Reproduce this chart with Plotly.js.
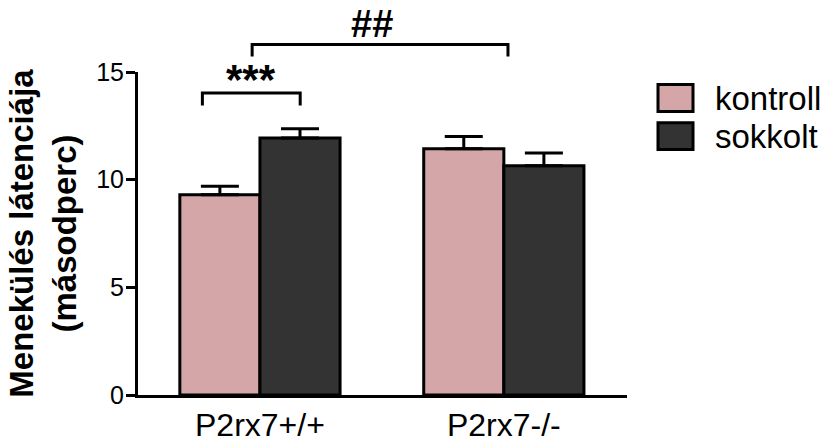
<!DOCTYPE html>
<html>
<head>
<meta charset="utf-8">
<script src="https://cdn.plot.ly/plotly-3.0.1.min.js"></script>
<style>html,body{margin:0;padding:0;background:#fff;}#chart{width:825px;height:443px;}</style>
</head>
<body>
<div id="chart"></div>
<script>
const categories = ['P2rx7+/+', 'P2rx7-/-'];
const seriesNames = ['kontroll', 'sokkolt'];
const kontrollMean = [9.3, 11.43];
const kontrollSem = [0.39, 0.58];
const sokkoltMean = [11.94, 10.65];
const sokkoltSem = [0.43, 0.59];
const yTicks = [0, 5, 10, 15];
const yTitle = 'Menekülés látenciája<br>(másodperc)';
const sigLabels = ['***', '##'];

const FONT = 'Liberation Sans, Arial, sans-serif';
const PINK = '#d5a6a8';
const DARK = '#333333';
const Y_MAX = yTicks[yTicks.length - 1];
const py = v => v / Y_MAX; // data value -> paper fraction (axis spans 0..Y_MAX)

function barTrace(name, y, err, color) {
  return {
    type: 'bar', name: name, x: categories, y: y,
    marker: {color: color, line: {color: '#000', width: 3}},
    error_y: {type: 'data', symmetric: false, array: err, arrayminus: err.map(() => 0),
              color: '#000', thickness: 3, width: 19},
    showlegend: false
  };
}

const data = [
  barTrace(seriesNames[0], kontrollMean, kontrollSem, PINK),
  barTrace(seriesNames[1], sokkoltMean, sokkoltSem, DARK)
];

const lineStyle = {color: '#000', width: 3};
function bracket(xa, xb, yLow, yHigh) {
  return {type: 'path', xref: 'x', yref: 'paper', line: lineStyle,
          path: `M ${xa},${py(yLow)} L ${xa},${py(yHigh)} L ${xb},${py(yHigh)} L ${xb},${py(yLow)}`};
}
const shapes = [
  bracket(-0.236, 0.165, 13.44, 14.03),
  bracket(-0.032, 1.017, 15.72, 16.28),
  // legend swatches
  {type: 'rect', xref: 'paper', yref: 'paper', x0: 1.0634, x1: 1.135, y0: 0.8775, y1: 0.961, fillcolor: PINK, line: lineStyle},
  {type: 'rect', xref: 'paper', yref: 'paper', x0: 1.0634, x1: 1.135, y0: 0.760, y1: 0.843, fillcolor: DARK, line: lineStyle}
];

const annotations = [
  {xref: 'x', yref: 'paper', x: -0.035, y: py(13.45), text: sigLabels[0], showarrow: false,
   yanchor: 'bottom', font: {family: FONT, size: 42, color: '#000', weight: 'bold'}},
  {xref: 'x', yref: 'paper', x: 0.458, y: py(16.14), text: sigLabels[1], showarrow: false,
   yanchor: 'bottom', font: {family: FONT, size: 38, color: '#000', weight: 'bold'}},
  {xref: 'paper', yref: 'paper', x: 1.176, y: 0.919, text: seriesNames[0], showarrow: false,
   xanchor: 'left', yanchor: 'middle', font: {family: FONT, size: 33, color: '#000'}},
  {xref: 'paper', yref: 'paper', x: 1.176, y: 0.800, text: seriesNames[1], showarrow: false,
   xanchor: 'left', yanchor: 'middle', font: {family: FONT, size: 33, color: '#000'}}
];

const layout = {
  width: 825, height: 443,
  margin: {l: 138, r: 198, t: 72, b: 48, pad: 0},
  paper_bgcolor: '#fff', plot_bgcolor: '#fff',
  barmode: 'group', bargap: 0.343, bargroupgap: 0,
  showlegend: false,
  font: {family: FONT, color: '#000'},
  xaxis: {
    type: 'category', range: [-0.5, 1.505],
    showline: true, linecolor: '#000', linewidth: 3,
    ticks: '', showgrid: false, zeroline: false,
    tickfont: {family: FONT, size: 32, color: '#000'}
  },
  yaxis: {
    range: [0, Y_MAX], tickvals: yTicks, ticktext: yTicks.map(String),
    showline: true, linecolor: '#000', linewidth: 3,
    ticks: 'outside', ticklen: 9, tickwidth: 3, tickcolor: '#000',
    ticklabelstandoff: -3,
    showgrid: false, zeroline: false,
    tickfont: {family: FONT, size: 25, color: '#000'},
    title: {text: yTitle, font: {family: FONT, size: 33, color: '#000', weight: 'bold'}, standoff: 10}
  },
  shapes: shapes,
  annotations: annotations
};

Plotly.newPlot('chart', data, layout, {displayModeBar: false, staticPlot: true});
</script>
</body>
</html>
